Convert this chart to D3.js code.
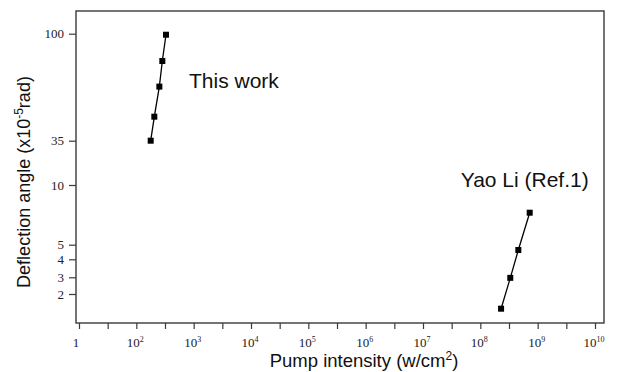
<!DOCTYPE html>
<html>
<head>
<meta charset="utf-8">
<script src="https://cdn.jsdelivr.net/npm/d3@7"></script>
<style>
body { margin: 0; background: #fff; }
</style>
</head>
<body>
<div id="chart"></div>
<script>
// data
const thisWorkX = [178, 206, 252, 284, 329];
const thisWorkY = [35, 44.3, 59.5, 76.5, 99];
const yaoLiX = [2.3e8, 3.33e8, 4.6e8, 7.26e8];
const yaoLiY = [1.4, 2.96, 4.61, 7.25];

const yTickValues = [2, 3, 4, 5, 10, 35, 100];
const xMajorExp = [1, 2, 3, 4, 5, 6, 7, 8, 9, 10];
const xTickLabels = ["1", "10^2", "10^3", "10^4", "10^5", "10^6", "10^7", "10^8", "10^9", "10^10"];

const svgWidth = 621;
const svgHeight = 372;
const margin = {top: 11, right: 17, bottom: 49, left: 76};
const width = svgWidth - margin.left - margin.right;
const height = svgHeight - margin.top - margin.bottom;

const x = d3.scaleLog()
    .domain([10, 1e10])
    .range([3, 519]);

// the original y axis is not evenly spaced, so it is piecewise between its ticks
const y = d3.scaleLog()
    .domain(yTickValues)
    .range([283, 266.3, 248.3, 233.7, 174, 129.7, 22.7]);

const svg = d3.select("#chart")
    .append("svg")
    .attr("width", svgWidth)
    .attr("height", svgHeight)
    .append("g")
    .attr("transform", `translate(${margin.left},${margin.top})`);

const axisColor = "#3a3a3a";

// x axis: majors at each decade, minors half way
const xTicks = [];
xMajorExp.forEach((e, i) => {
    xTicks.push(Math.pow(10, e));
    if (i < xMajorExp.length - 1) xTicks.push(Math.pow(10, e + 0.5));
});

const gx = svg.append("g")
    .attr("transform", `translate(0,${height})`)
    .call(d3.axisBottom(x).tickValues(xTicks).tickSize(6).tickSizeOuter(0).tickFormat(""));
gx.select(".domain").remove();
gx.selectAll(".tick line").attr("stroke", axisColor).attr("stroke-width", 1.2);

xMajorExp.forEach((e, i) => {
    const parts = xTickLabels[i].split("^");
    const t = gx.append("text")
        .attr("x", x(Math.pow(10, e)) - (parts.length > 1 ? 1 : 3))
        .attr("y", 24)
        .attr("text-anchor", "middle")
        .attr("font-family", "Liberation Serif")
        .attr("font-size", "13px")
        .attr("fill", "#222");
    t.append("tspan").text(parts[0]);
    if (parts.length > 1) {
        t.append("tspan")
            .attr("dy", "-5.5")
            .attr("font-size", "8px")
            .text(parts[1]);
    }
});

// y axis
const gy = svg.append("g")
    .call(d3.axisLeft(y).tickValues(yTickValues).tickSize(7).tickPadding(5).tickSizeOuter(0).tickFormat(d3.format("d")));
gy.select(".domain").remove();
gy.selectAll(".tick line").attr("stroke", axisColor).attr("stroke-width", 1.2);
gy.selectAll(".tick text")
    .attr("font-family", "Liberation Serif")
    .attr("font-size", "13px")
    .attr("fill", "#222");

// frame
svg.append("rect")
    .attr("width", width)
    .attr("height", height)
    .attr("fill", "none")
    .attr("stroke", axisColor)
    .attr("stroke-width", 1.4);

function drawSeries(xs, ys) {
    const pts = xs.map((d, i) => [d, ys[i]]);
    const line = d3.line()
        .x(d => x(d[0]))
        .y(d => y(d[1]));
    svg.append("path")
        .datum(pts)
        .attr("d", line)
        .attr("fill", "none")
        .attr("stroke", "#000")
        .attr("stroke-width", 1.3);
    svg.selectAll(null)
        .data(pts)
        .enter()
        .append("rect")
        .attr("x", d => x(d[0]) - 3)
        .attr("y", d => y(d[1]) - 3)
        .attr("width", 6)
        .attr("height", 6)
        .attr("fill", "#000");
}

drawSeries(thisWorkX, thisWorkY);
drawSeries(yaoLiX, yaoLiY);

// annotations
svg.append("text")
    .attr("x", 113)
    .attr("y", 76.7)
    .attr("font-family", "Liberation Sans")
    .attr("font-size", "21px")
    .attr("fill", "#111")
    .text("This work");

svg.append("text")
    .attr("x", 384.7)
    .attr("y", 176)
    .attr("font-family", "Liberation Sans")
    .attr("font-size", "21px")
    .attr("fill", "#111")
    .text("Yao Li (Ref.1)");

// axis titles
const xt = svg.append("text")
    .attr("x", 288)
    .attr("y", 356)
    .attr("text-anchor", "middle")
    .attr("font-family", "Liberation Sans")
    .attr("font-size", "18.5px")
    .attr("fill", "#111");
xt.append("tspan").text("Pump intensity (w/cm");
xt.append("tspan").attr("dy", "-7").attr("font-size", "12px").text("2");
xt.append("tspan").attr("dy", "7").text(")");

const yt = svg.append("text")
    .attr("transform", `translate(-46,171) rotate(-90)`)
    .attr("text-anchor", "middle")
    .attr("font-family", "Liberation Sans")
    .attr("font-size", "18px")
    .attr("fill", "#111");
yt.append("tspan").text("Deflection angle (x10");
yt.append("tspan").attr("dy", "-7").attr("font-size", "12px").text("-5");
yt.append("tspan").attr("dy", "7").text("rad)");
</script>
</body>
</html>
